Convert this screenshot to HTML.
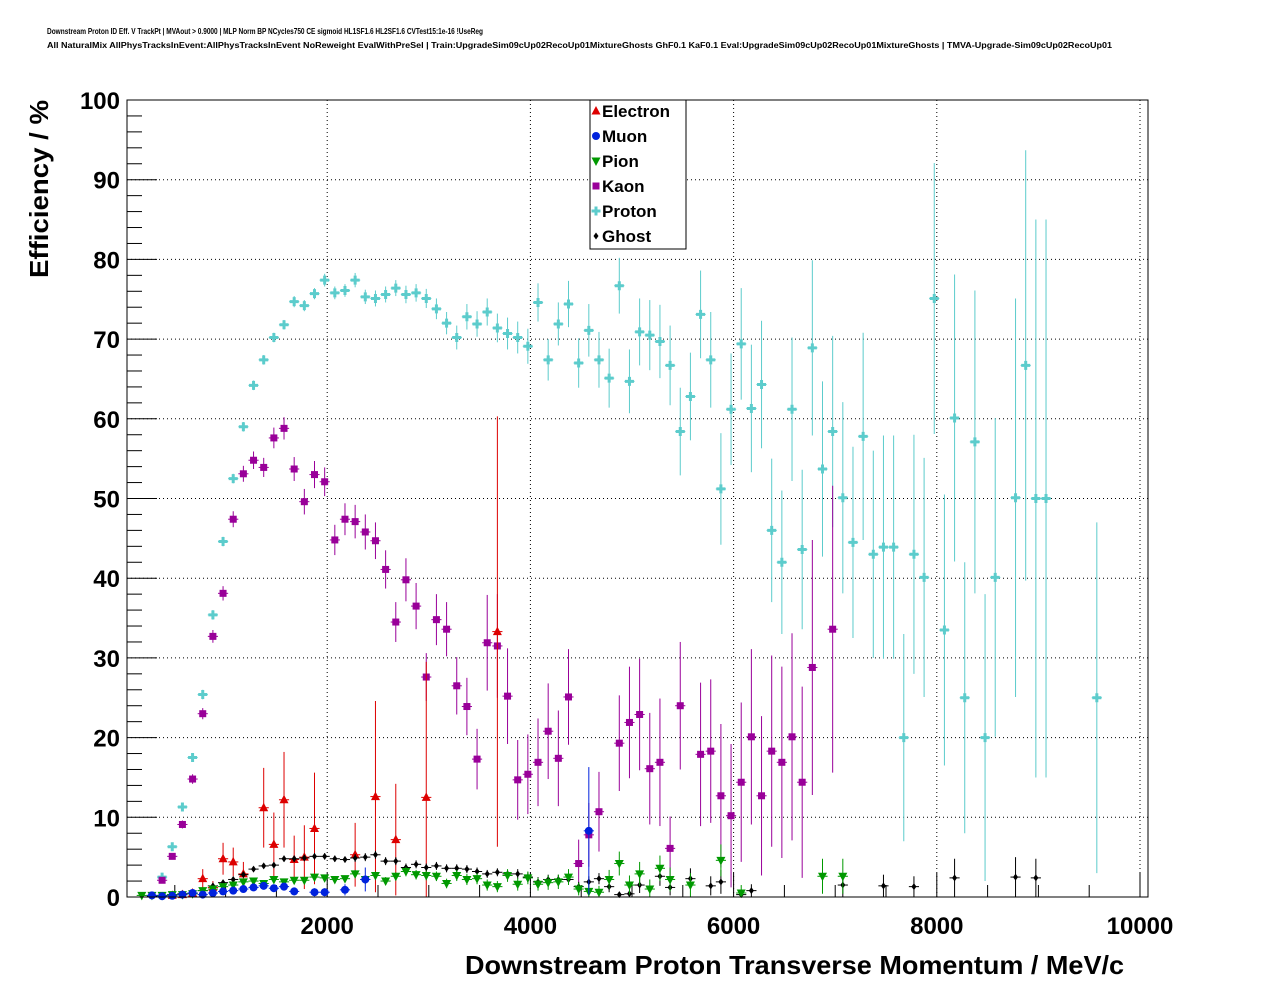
<!DOCTYPE html>
<html><head><meta charset="utf-8">
<style>
html,body{margin:0;padding:0;background:#fff;}
svg{display:block;font-family:"Liberation Sans",Arial,sans-serif;}
</style></head>
<body>
<svg id="chart" width="1276" height="996" viewBox="0 0 1276 996" xmlns="http://www.w3.org/2000/svg">
<text x="47" y="34" font-size="8" font-weight="bold" textLength="436" lengthAdjust="spacingAndGlyphs">Downstream Proton ID Eff. V TrackPt | MVAout &gt; 0.9000 | MLP Norm BP NCycles750 CE sigmoid HL1SF1.6 HL2SF1.6 CVTest15:1e-16 !UseReg</text>
<text x="47" y="48" font-size="8" font-weight="bold" textLength="1065" lengthAdjust="spacingAndGlyphs">All NaturalMix AllPhysTracksInEvent:AllPhysTracksInEvent NoReweight EvalWithPreSel | Train:UpgradeSim09cUp02RecoUp01MixtureGhosts GhF0.1 KaF0.1 Eval:UpgradeSim09cUp02RecoUp01MixtureGhosts | TMVA-Upgrade-Sim09cUp02RecoUp01</text>
<g id="grid"></g>
<g id="axes"></g>
<g id="series"></g>
<rect x="127" y="100" width="1021" height="797" fill="none" stroke="#000" stroke-width="1"/>
<text x="465" y="974" font-size="26" font-weight="bold" textLength="659" lengthAdjust="spacingAndGlyphs">Downstream Proton Transverse Momentum / MeV/c</text>
<text transform="translate(48,278) rotate(-90)" font-size="26" font-weight="bold" textLength="178" lengthAdjust="spacingAndGlyphs">Efficiency / %</text>
<g id="legend"></g>
</svg>
<script>
const xTicks=[2000,4000,6000,8000,10000];
const yTicks=[0,10,20,30,40,50,60,70,80,90,100];
const protonX=[375,475,575,675,775,875,975,1075,1175,1275,1375,1475,1575,1675,1775,1875,1975,2075,2175,2275,2375,2475,2575,2675,2775,2875,2975,3075,3175,3275,3375,3475,3575,3675,3775,3875,3975,4075,4175,4275,4375,4475,4575,4675,4775,4875,4975,5075,5175,5275,5375,5475,5575,5675,5775,5875,5975,6075,6175,6275,6375,6475,6575,6675,6775,6875,6975,7075,7175,7275,7375,7475,7575,7675,7775,7875,7975,8075,8175,8275,8375,8475,8575,8775,8875,8975,9075,9575];
const protonY=[2.5,6.3,11.3,17.5,25.4,35.4,44.6,52.5,59,64.2,67.4,70.2,71.8,74.7,74.2,75.7,77.4,75.8,76.1,77.4,75.3,75.1,75.6,76.4,75.6,75.8,75.1,73.8,72,70.2,72.8,71.9,73.4,71.4,70.7,70.2,69.1,74.6,67.4,71.9,74.4,67,71.1,67.4,65.1,76.7,64.7,70.9,70.5,69.7,66.7,58.4,62.8,73.1,67.4,51.2,61.2,69.4,61.3,64.3,46,42,61.2,43.6,68.9,53.7,58.4,50.1,44.5,57.8,43,43.9,43.9,20,43,40.1,75.1,33.5,60.1,25,57.1,20,40.1,50.1,66.7,50,50,25];
const protonE=[0.5,0.5,0.5,0.5,0.6,0.6,0.6,0.6,0.6,0.6,0.6,0.6,0.6,0.7,0.7,0.7,0.8,0.8,0.8,0.9,0.9,1,1,1,1.1,1.1,1.2,1.3,1.4,1.5,1.6,1.6,1.7,1.8,2,2,2.2,2.4,2.6,2.7,2.9,3.1,3.3,3.5,3.7,3.5,4,4.2,4.4,4.6,5,5.5,5.5,5.5,6,7,7,7,8,8,9,9,9,10,11,11,12,12,12,13,13,14,14,13,15,15,17,17,18,17,19,18,20,25,27,35,35,22];
const kaonX=[375,475,575,675,775,875,975,1075,1175,1275,1375,1475,1575,1675,1775,1875,1975,2075,2175,2275,2375,2475,2575,2675,2775,2875,2975,3075,3175,3275,3375,3475,3575,3675,3775,3875,3975,4075,4175,4275,4375,4475,4575,4675,4875,4975,5075,5175,5275,5375,5475,5675,5775,5875,5975,6075,6175,6275,6375,6475,6575,6675,6775,6975];
const kaonY=[2.1,5.1,9.1,14.8,23,32.7,38.1,47.4,53.1,54.8,53.9,57.6,58.8,53.7,49.6,53,52.1,44.8,47.4,47.1,45.8,44.7,41.1,34.5,39.8,36.5,27.6,34.8,33.6,26.5,23.9,17.3,31.9,31.5,25.2,14.7,15.4,16.9,20.8,17.4,25.1,4.2,7.8,10.7,19.3,21.9,22.9,16.1,16.9,6.1,24,17.9,18.3,12.7,10.2,14.4,20.1,12.7,18.3,16.9,20.1,14.4,28.8,33.6];
const kaonE=[0.3,0.4,0.5,0.6,0.7,0.8,0.9,1,1,1.1,1.2,1.3,1.4,1.5,1.6,1.7,1.8,1.9,2,2.1,2.2,2.3,2.4,2.5,2.7,2.9,3,3.2,3.4,3.6,3.6,3.8,6,6.5,6,5,5,5.5,6,6,6,3,4,5,6,7,7,7,8,4,8,9,9,9,9,10,11,10,12,12,13,12,16,18];
const electronX=[475,575,675,775,875,975,1075,1175,1375,1475,1575,1675,1775,1875,2275,2475,2675,2975,3675];
const electronY=[0.2,0.3,0.5,2.3,1.2,4.8,4.4,2.9,11.2,6.6,12.2,4.7,5,8.6,5.3,12.6,7.2,12.5,33.3];
const electronE=[0.1,0.1,0.2,1.2,0.8,2,1.8,1.5,5,4,6,3,4,7,4,12,7,17,27];
const muonX=[275,375,475,575,675,775,875,975,1075,1175,1275,1375,1475,1575,1675,1875,1975,2175,2375,4575];
const muonY=[0.2,0.1,0.15,0.3,0.5,0.3,0.5,0.7,0.8,1,1.2,1.4,1.1,1.3,0.7,0.6,0.6,0.9,2.2,8.3];
const muonE=[0.1,0.1,0.1,0.1,0.2,0.2,0.2,0.3,0.3,0.3,0.4,0.4,0.4,0.5,0.5,0.5,0.5,0.7,1.5,8];
const pionX=[175,275,375,475,575,675,775,875,975,1075,1175,1275,1375,1475,1575,1675,1775,1875,1975,2075,2175,2275,2375,2475,2575,2675,2775,2875,2975,3075,3175,3275,3375,3475,3575,3675,3775,3875,3975,4075,4175,4275,4375,4475,4575,4675,4775,4875,4975,5075,5175,5275,5375,5575,5875,6075,6875,7075];
const pionY=[0.2,0.2,0.2,0.3,0.3,0.4,0.8,1,1.3,1.5,1.9,2,1.7,2.2,1.9,2.1,2.1,2.5,2.4,2.2,2.3,2.9,2.2,2.7,2,2.6,3.2,2.8,2.7,2.6,1.7,2.7,2.2,2.3,1.5,1.3,2.7,1.6,2.4,1.6,1.8,1.9,2.5,1,0.7,0.6,2.2,4.2,1.5,2.9,1,3.6,2.2,1.5,4.6,0.5,2.6,2.6];
const pionE=[0.1,0.1,0.1,0.1,0.1,0.1,0.2,0.2,0.2,0.3,0.3,0.3,0.3,0.3,0.3,0.3,0.4,0.4,0.4,0.4,0.4,0.5,0.5,0.5,0.5,0.5,0.6,0.6,0.6,0.6,0.6,0.7,0.7,0.7,0.7,0.7,0.8,0.8,0.8,0.8,0.9,0.9,1,0.8,0.8,0.8,1.2,1.5,1.2,1.5,1.2,1.6,1.5,1.5,2,1,2.2,2.2];
const ghostX=[275,375,475,575,675,775,875,975,1075,1175,1275,1375,1475,1575,1675,1775,1875,1975,2075,2175,2275,2375,2475,2575,2675,2775,2875,2975,3075,3175,3275,3375,3475,3575,3675,3775,3875,3975,4075,4175,4275,4375,4475,4575,4675,4775,4875,4975,5075,5275,5375,5575,5775,5875,6075,6175,7075,7475,7775,8175,8775,8975];
const ghostY=[0.1,0.2,0.3,0.4,0.5,0.8,1.4,1.8,2.2,2.8,3.5,3.9,4,4.8,4.8,4.9,5.1,5.1,4.8,4.7,4.9,5,5.3,4.5,4.5,3.7,4.1,3.7,3.9,3.6,3.6,3.5,3.2,2.9,3.1,2.9,2.9,2.5,1.9,2.2,2.2,2.2,1.3,1.9,2.3,1.3,0.3,0.4,1.5,2.6,1.2,2.3,1.4,1.9,0.3,0.8,1.5,1.4,1.3,2.4,2.5,2.4];
const ghostE=[0.05,0.1,0.1,0.1,0.1,0.2,0.2,0.2,0.3,0.3,0.3,0.3,0.3,0.4,0.4,0.4,0.4,0.4,0.4,0.4,0.5,0.5,0.5,0.5,0.5,0.5,0.5,0.5,0.5,0.5,0.5,0.5,0.5,0.5,0.5,0.5,0.6,0.6,0.6,0.6,0.6,0.6,0.6,0.7,0.7,0.7,0.3,0.4,1,1.2,1,1.3,1.2,1.5,0.3,0.8,1.5,1.4,1.3,2.4,2.5,2.4];

const NS="http://www.w3.org/2000/svg";
const L=127,R=1148,T=100,B=897;
function xS(v){return 124+v*0.1016;}
function yS(v){return B-(v/100)*(B-T);}
function mk(tag,attrs,parent){const e=document.createElementNS(NS,tag);for(const k in attrs)e.setAttribute(k,attrs[k]);parent.appendChild(e);return e;}
const grid=document.getElementById('grid'),axes=document.getElementById('axes'),ser=document.getElementById('series'),leg=document.getElementById('legend');

xTicks.forEach(v=>{
  const x=xS(v);
  if(x<R-2){const g=mk('line',{x1:x,x2:x,y1:T,y2:B,stroke:'#000','stroke-width':1,'stroke-dasharray':'1,3'},grid);
  
  }
  const t=mk('line',{x1:x,x2:x,y1:B,y2:B-24,stroke:'#000'},axes);
  
  
  const lb=mk('text',{x:x,y:934,'font-size':24,'font-weight':'bold','text-anchor':'middle'},axes);
  lb.textContent=v;
  
  
});
for(let v=500;v<10000;v+=500){if(v%2000===0)continue;const x=xS(v);
  const t=mk('line',{x1:x,x2:x,y1:B,y2:B-12,stroke:'#000'},axes);
  
  }
yTicks.forEach(v=>{
  const y=yS(v);
  if(v>0&&v<100){const g=mk('line',{x1:L,x2:R,y1:y,y2:y,stroke:'#000','stroke-width':1,'stroke-dasharray':'1,3'},grid);
  
  }
  const t=mk('line',{x1:L,x2:L+30,y1:y,y2:y,stroke:'#000'},axes);
  
  
  const lb=mk('text',{x:120,y:y+9,'font-size':24,'font-weight':'bold','text-anchor':'end'},axes);
  lb.textContent=v;
  
  
});
for(let v=2;v<100;v+=2){if(v%10===0)continue;const y=yS(v);
  const t=mk('line',{x1:L,x2:L+15,y1:y,y2:y,stroke:'#000'},axes);
  
  }

function marker(shape,cx,cy,col,parent){
  if(shape==='tri') return mk('polygon',{points:`${cx},${cy-5} ${cx-4.5},${cy+3.5} ${cx+4.5},${cy+3.5}`,fill:col},parent);
  if(shape==='itri') return mk('polygon',{points:`${cx},${cy+5} ${cx-4.5},${cy-3.5} ${cx+4.5},${cy-3.5}`,fill:col},parent);
  if(shape==='circ') return mk('circle',{cx:cx,cy:cy,r:4,fill:col},parent);
  if(shape==='sq') return mk('rect',{x:cx-3.5,y:cy-3.5,width:7,height:7,fill:col},parent);
  if(shape==='cross') return mk('path',{d:`M${cx-4.5},${cy-1.5}h3v-3h3v3h3v3h-3v3h-3v-3h-3z`,fill:col},parent);
  return mk('polygon',{points:`${cx},${cy-3.5} ${cx+2.5},${cy} ${cx},${cy+3.5} ${cx-2.5},${cy}`,fill:col},parent);
}
function drawSeries(name,xs,ys,es,col,shape){
  const g=mk('g',{},ser);
  
  
  xs.forEach((xv,i)=>{
    const cx=xS(xv),cy=yS(ys[i]);
    const lo=Math.max(0,ys[i]-es[i]),hi=Math.min(100,ys[i]+es[i]);
    mk('line',{x1:cx,x2:cx,y1:yS(lo),y2:yS(hi),stroke:col,'stroke-width':1},g);
    mk('line',{x1:xS(xv-50),x2:xS(xv+50),y1:cy,y2:cy,stroke:col,'stroke-width':1},g);
    const m=marker(shape,cx,cy,col,g);
    
    
  });
}
drawSeries('proton',protonX,protonY,protonE,'#5ccccc','cross');
drawSeries('kaon',kaonX,kaonY,kaonE,'#990099','sq');
drawSeries('electron',electronX,electronY,electronE,'#dd0000','tri');
drawSeries('ghost',ghostX,ghostY,ghostE,'#000000','dia');
drawSeries('pion',pionX,pionY,pionE,'#009900','itri');
drawSeries('muon',muonX,muonY,muonE,'#0022dd','circ');

const legNames=['Electron','Muon','Pion','Kaon','Proton','Ghost'];
const legCols=['#dd0000','#0022dd','#009900','#990099','#5ccccc','#000000'];
const legShapes=['tri','circ','itri','sq','cross','dia'];
const box=mk('rect',{x:590,y:100,width:96,height:149,fill:'#fff',stroke:'#000'},leg);


legNames.forEach((n,i)=>{
  const y=111+i*25;
  const m=marker(legShapes[i],596,y,legCols[i],leg);
  
  
  const t=mk('text',{x:602,y:y+6,'font-size':17,'font-weight':'bold'},leg);
  t.textContent=n;
  
  
});
</script>
</body></html>
